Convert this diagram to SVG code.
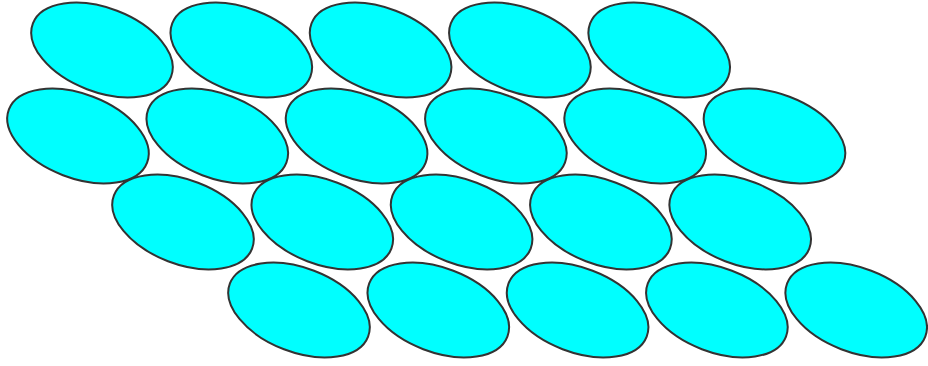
<svg xmlns="http://www.w3.org/2000/svg" width="928" height="366" viewBox="0 0 928 366">
<defs>
<style>.e{fill:#00ffff;stroke:#333;stroke-width:2}</style>
<ellipse id="el" class="e" cx="0" cy="0" rx="74" ry="42" transform="rotate(21)"/>
</defs>
<rect width="928" height="366" fill="#fff"/>
<g id="row1">
<use href="#el" x="102" y="50"/>
<use href="#el" x="241.3" y="50"/>
<use href="#el" x="380.6" y="50"/>
<use href="#el" x="519.9" y="50"/>
<use href="#el" x="659.2" y="50"/>
</g>
<g id="row2">
<use href="#el" x="78" y="136"/>
<use href="#el" x="217.3" y="136"/>
<use href="#el" x="356.6" y="136"/>
<use href="#el" x="495.9" y="136"/>
<use href="#el" x="635.2" y="136"/>
<use href="#el" x="774.5" y="136"/>
</g>
<g id="row3">
<use href="#el" x="183" y="222"/>
<use href="#el" x="322.3" y="222"/>
<use href="#el" x="461.6" y="222"/>
<use href="#el" x="600.9" y="222"/>
<use href="#el" x="740.2" y="222"/>
</g>
<g id="row4">
<use href="#el" x="299" y="310"/>
<use href="#el" x="438.3" y="310"/>
<use href="#el" x="577.6" y="310"/>
<use href="#el" x="716.9" y="310"/>
<use href="#el" x="856.2" y="310"/>
</g>
</svg>
